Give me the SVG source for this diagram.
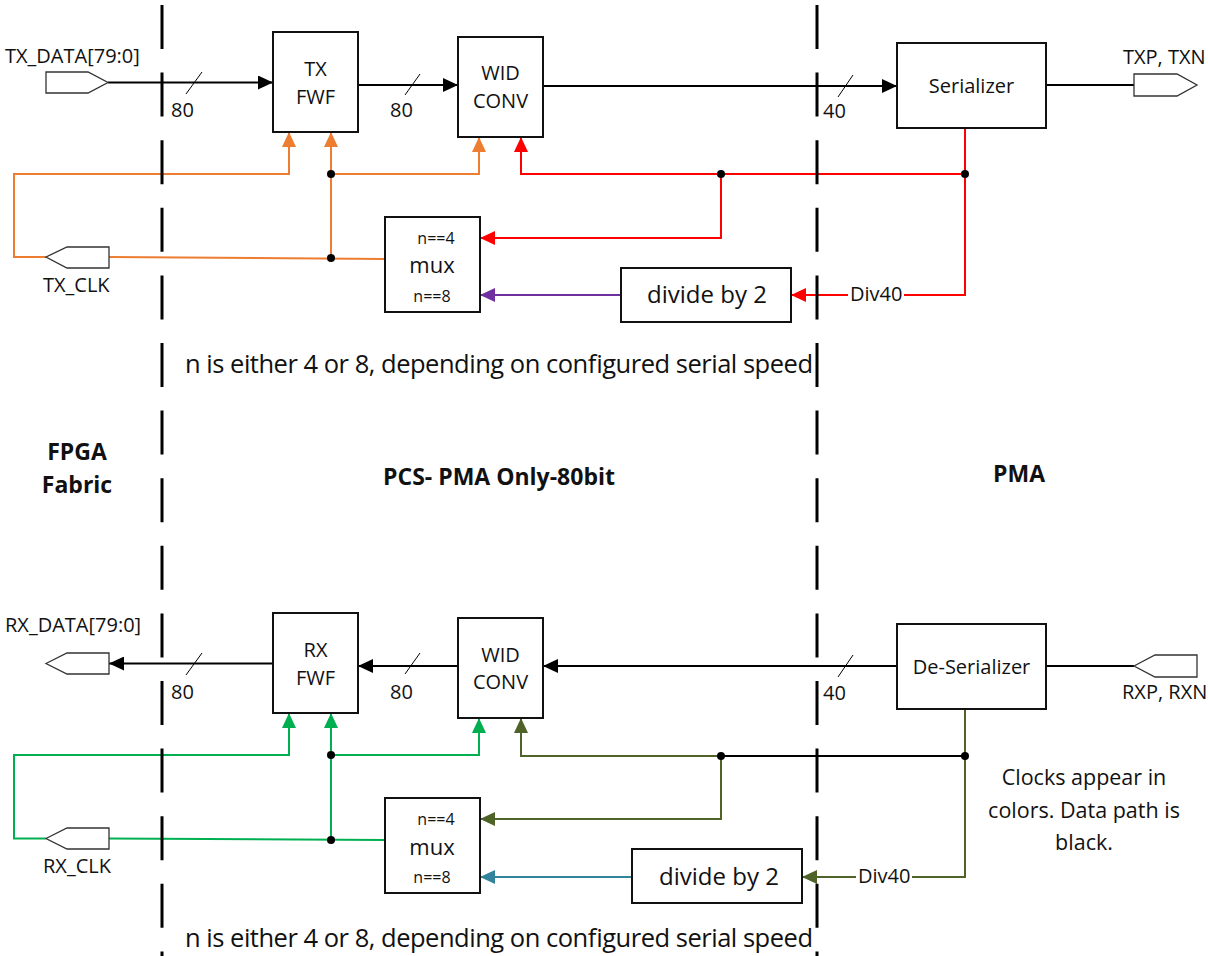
<svg xmlns="http://www.w3.org/2000/svg" width="1208" height="956" viewBox="0 0 1208 956">
<style>
text{font-family:"Open Sans","Noto Sans","Liberation Sans",sans-serif;fill:#111}
.box{fill:#fff;stroke:#111;stroke-width:2}
.port{fill:#fff;stroke:#333;stroke-width:1.3}
.t20{font-size:20px}
.c{text-anchor:middle}
.b{font-weight:bold;font-size:23px}
.w{fill:none;stroke-width:2}
.k{stroke:#000}
.or{stroke:#ED7D31}
.rd{stroke:#FF0000}
.pu{stroke:#7030A0}
.gr{stroke:#00B050}
.ol{stroke:#4F6228}
.tl{stroke:#31849B}
.sl{stroke:#000;stroke-width:1}
.dash{stroke:#000;stroke-width:3;stroke-dasharray:44 23.6}
.dot{fill:#000}
.sm{font-size:16px}
.mx{font-size:22px}
</style>
<defs>
<marker id="ak" markerUnits="userSpaceOnUse" markerWidth="15" markerHeight="14" viewBox="0 0 15 14" refX="15" refY="7" orient="auto"><path d="M0,0 L15,7 L0,14 z" fill="#000"/></marker>
<marker id="aor" markerUnits="userSpaceOnUse" markerWidth="15" markerHeight="14" viewBox="0 0 15 14" refX="15" refY="7" orient="auto"><path d="M0,0 L15,7 L0,14 z" fill="#ED7D31"/></marker>
<marker id="ard" markerUnits="userSpaceOnUse" markerWidth="15" markerHeight="14" viewBox="0 0 15 14" refX="15" refY="7" orient="auto"><path d="M0,0 L15,7 L0,14 z" fill="#FF0000"/></marker>
<marker id="apu" markerUnits="userSpaceOnUse" markerWidth="15" markerHeight="14" viewBox="0 0 15 14" refX="15" refY="7" orient="auto"><path d="M0,0 L15,7 L0,14 z" fill="#7030A0"/></marker>
<marker id="agr" markerUnits="userSpaceOnUse" markerWidth="15" markerHeight="14" viewBox="0 0 15 14" refX="15" refY="7" orient="auto"><path d="M0,0 L15,7 L0,14 z" fill="#00B050"/></marker>
<marker id="aol" markerUnits="userSpaceOnUse" markerWidth="15" markerHeight="14" viewBox="0 0 15 14" refX="15" refY="7" orient="auto"><path d="M0,0 L15,7 L0,14 z" fill="#4F6228"/></marker>
<marker id="atl" markerUnits="userSpaceOnUse" markerWidth="15" markerHeight="14" viewBox="0 0 15 14" refX="15" refY="7" orient="auto"><path d="M0,0 L15,7 L0,14 z" fill="#31849B"/></marker>
</defs>
<rect width="1208" height="956" fill="#fff"/>

<g id="connectors">
<!-- TX data -->
<path class="w k" d="M108,82.5 H273" marker-end="url(#ak)"/>
<path class="w k" d="M358,85 H458" marker-end="url(#ak)"/>
<path class="w k" d="M543,86 H897" marker-end="url(#ak)"/>
<path class="w k" d="M1046,85 H1134"/>
<line class="sl" x1="186" y1="94" x2="202" y2="72"/>
<line class="sl" x1="405" y1="95" x2="420" y2="74"/>
<line class="sl" x1="838" y1="97" x2="853" y2="75"/>
<!-- TX orange clocks -->
<path class="w or" d="M46,257 H14 V174 H289 V132" marker-end="url(#aor)"/>
<path class="w or" d="M109,257 L385,259"/>
<path class="w or" d="M331,258 V132" marker-end="url(#aor)"/>
<path class="w or" d="M331,174 H479 V137" marker-end="url(#aor)"/>
<!-- TX red clocks -->
<path class="w rd" d="M965,128 V295 H904"/>
<path class="w rd" d="M848,295 H791" marker-end="url(#ard)"/>
<path class="w rd" d="M965,174 H521 V137" marker-end="url(#ard)"/>
<path class="w rd" d="M721,174 V238 H480" marker-end="url(#ard)"/>
<path class="w pu" d="M621,295 H480" marker-end="url(#apu)"/>
<circle class="dot" cx="331" cy="174" r="4"/>
<circle class="dot" cx="331" cy="258" r="4"/>
<circle class="dot" cx="721" cy="174" r="4"/>
<circle class="dot" cx="965" cy="174" r="4"/>

<!-- RX data -->
<path class="w k" d="M897,666 H543" marker-end="url(#ak)"/>
<path class="w k" d="M458,666 H358" marker-end="url(#ak)"/>
<path class="w k" d="M273,663.5 H109" marker-end="url(#ak)"/>
<path class="w k" d="M1046,666 H1134"/>
<line class="sl" x1="186" y1="675" x2="202" y2="653"/>
<line class="sl" x1="405" y1="674" x2="420" y2="653"/>
<line class="sl" x1="838" y1="677" x2="853" y2="655"/>
<!-- RX green clocks -->
<path class="w gr" d="M46,838.5 H14 V755 H289 V713" marker-end="url(#agr)"/>
<path class="w gr" d="M109,838.5 L385,840"/>
<path class="w gr" d="M331,840 V713" marker-end="url(#agr)"/>
<path class="w gr" d="M331,755 H479 V718" marker-end="url(#agr)"/>
<!-- RX olive clocks -->
<path class="w ol" d="M965,709 V877 H912"/>
<path class="w ol" d="M856,877 H802" marker-end="url(#aol)"/>
<path class="w k" d="M965,756 H721"/>
<path class="w ol" d="M721,756 H521 V718" marker-end="url(#aol)"/>
<path class="w ol" d="M721,756 V819 H480" marker-end="url(#aol)"/>
<path class="w tl" d="M632,877 H480" marker-end="url(#atl)"/>
<circle class="dot" cx="331" cy="755" r="4"/>
<circle class="dot" cx="331" cy="840" r="4"/>
<circle class="dot" cx="721" cy="756" r="4"/>
<circle class="dot" cx="965" cy="756" r="4"/>
</g>

<g id="boundaries">
<line class="dash" x1="162" y1="5" x2="162" y2="956"/>
<line class="dash" x1="817" y1="5" x2="817" y2="956"/>
</g>

<!-- TX nodes -->
<g id="tx_data_port">
<polygon class="port" points="46,72 88,72 108,82.5 88,93 46,93"/>
<text class="t20" x="5" y="63">TX_DATA[79:0]</text>
<text class="t20" x="171" y="117">80</text>
</g>
<g id="tx_fwf">
<rect class="box" x="273" y="32" width="85" height="100"/>
<text class="t20 c" x="315.5" y="76">TX</text>
<text class="t20 c" x="315.5" y="104">FWF</text>
<text class="t20" x="390" y="117">80</text>
</g>
<g id="tx_widconv">
<rect class="box" x="458" y="37" width="85" height="100"/>
<text class="t20 c" x="500.5" y="80">WID</text>
<text class="t20 c" x="500.5" y="108">CONV</text>
</g>
<g id="serializer">
<rect class="box" x="897" y="43" width="149" height="85"/>
<text class="t20 c" x="971.5" y="93">Serializer</text>
<text class="t20" x="823" y="118">40</text>
</g>
<g id="txp_port">
<polygon class="port" points="1134,74 1177,74 1197,85 1177,96 1134,96"/>
<text class="t20" x="1123" y="64">TXP, TXN</text>
</g>
<g id="tx_clk_port">
<polygon class="port" points="46,257 67,247 109,247 109,268 67,268"/>
<text class="t20" x="43" y="292">TX_CLK</text>
</g>
<g id="tx_mux">
<rect class="box" x="385" y="217" width="95" height="95"/>
<text class="c sm" x="436" y="244">n==4</text>
<text class="c mx" x="432" y="273">mux</text>
<text class="c sm" x="432" y="302">n==8</text>
</g>
<g id="tx_div2">
<rect class="box" x="621" y="268" width="170" height="54"/>
<text class="c" x="707" y="303" font-size="24">divide by 2</text>
<text class="t20" x="850" y="301">Div40</text>
</g>
<text x="185" y="373" font-size="25.5" textLength="628">n is either 4 or 8, depending on configured serial speed</text>

<!-- region labels -->
<g id="labels">
<text class="b c" x="77" y="460">FPGA</text>
<text class="b c" x="77" y="493">Fabric</text>
<text class="b c" x="499" y="485">PCS- PMA Only-80bit</text>
<text class="b c" x="1019" y="482">PMA</text>
</g>

<!-- RX nodes -->
<g id="rx_data_port">
<polygon class="port" points="46,663.5 67,653 109,653 109,674 67,674"/>
<text class="t20" x="5" y="632">RX_DATA[79:0]</text>
<text class="t20" x="171" y="699">80</text>
</g>
<g id="rx_fwf">
<rect class="box" x="273" y="613" width="85" height="100"/>
<text class="t20 c" x="315.5" y="657">RX</text>
<text class="t20 c" x="315.5" y="685">FWF</text>
<text class="t20" x="390" y="699">80</text>
</g>
<g id="rx_widconv">
<rect class="box" x="458" y="618" width="85" height="100"/>
<text class="t20 c" x="500.5" y="662">WID</text>
<text class="t20 c" x="500.5" y="689">CONV</text>
</g>
<g id="deserializer">
<rect class="box" x="897" y="624" width="149" height="85"/>
<text class="t20 c" x="971.5" y="674">De-Serializer</text>
<text class="t20" x="823" y="700">40</text>
</g>
<g id="rxp_port">
<polygon class="port" points="1134,666 1155,655 1197,655 1197,677 1155,677"/>
<text class="t20" x="1122" y="699">RXP, RXN</text>
</g>
<g id="rx_clk_port">
<polygon class="port" points="46,838.5 67,828 109,828 109,849 67,849"/>
<text class="t20" x="43" y="873">RX_CLK</text>
</g>
<g id="rx_mux">
<rect class="box" x="385" y="798" width="95" height="95"/>
<text class="c sm" x="436" y="825">n==4</text>
<text class="c mx" x="432" y="855">mux</text>
<text class="c sm" x="432" y="883">n==8</text>
</g>
<g id="rx_div2">
<rect class="box" x="632" y="849" width="170" height="54"/>
<text class="c" x="719" y="885" font-size="24">divide by 2</text>
<text class="t20" x="858" y="883">Div40</text>
</g>
<text x="185" y="947" font-size="25.5" textLength="628">n is either 4 or 8, depending on configured serial speed</text>
<g id="note">
<text class="c" x="1084" y="785" font-size="21.5">Clocks appear in</text>
<text class="c" x="1084" y="818" font-size="21.5">colors. Data path is</text>
<text class="c" x="1084" y="850" font-size="21.5">black.</text>
</g>
</svg>
